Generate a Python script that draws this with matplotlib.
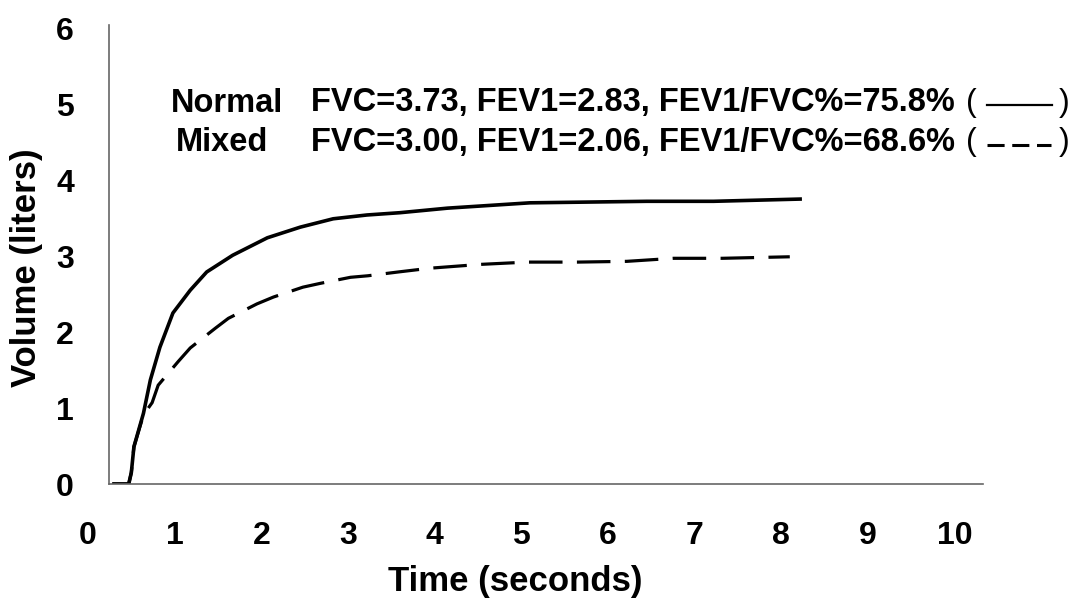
import matplotlib
matplotlib.use("Agg")
import matplotlib.pyplot as plt
from matplotlib.lines import Line2D

# ---- data ----
normal_t = [0.28, 0.47, 0.50, 0.53, 0.64, 0.72, 0.83, 0.98, 1.18, 1.37, 1.67, 2.07, 2.45,
            2.83, 3.22, 3.60, 4.15, 5.10, 6.45, 7.22, 8.24]
normal_v = [0.00, 0.00, 0.15, 0.49, 0.93, 1.37, 1.80, 2.25, 2.55, 2.79, 3.01, 3.24, 3.38,
            3.49, 3.54, 3.57, 3.63, 3.70, 3.72, 3.72, 3.75]

mixed_t = [0.28, 0.47, 0.50, 0.53, 0.64, 0.74, 0.81, 1.04, 1.18, 1.47, 1.62, 1.95, 2.14,
           2.48, 2.68, 3.03, 3.23, 3.58, 3.95, 4.53, 5.07, 5.65, 6.22, 6.76, 7.32, 8.10]
mixed_v = [0.00, 0.00, 0.15, 0.49, 0.91, 1.07, 1.30, 1.61, 1.79, 2.05, 2.18, 2.37, 2.46,
           2.59, 2.64, 2.72, 2.74, 2.79, 2.84, 2.89, 2.92, 2.92, 2.93, 2.97, 2.97, 2.99]

x_ticks = [0, 1, 2, 3, 4, 5, 6, 7, 8, 9, 10]
y_ticks = [0, 1, 2, 3, 4, 5, 6]

names = ["Normal", "Mixed"]
stats = ["FVC=3.73, FEV1=2.83, FEV1/FVC%=75.8%",
         "FVC=3.00, FEV1=2.06, FEV1/FVC%=68.6%"]

x_label = "Time (seconds)"
y_label = "Volume (liters)"

# ---- figure ----
W, H = 1073, 598
fig = plt.figure(figsize=(W / 100, H / 100), dpi=100)
fig.patch.set_facecolor("white")
FONT = "Liberation Sans"

def fx(px):
    return px / W

def fy(py):
    return 1 - py / H

ax = fig.add_axes([fx(88), fy(484), fx(983) - fx(88), fy(25) - fy(484)])
ax.set_xlim(0, 10.33)
ax.set_ylim(0, 6.04)

ax.plot(normal_t, normal_v, color="black", lw=2.6, solid_capstyle="butt",
        solid_joinstyle="round")
ax.plot(mixed_t, mixed_v, color="black", lw=2.3, dashes=(10.5, 4.5))

for s in ("top", "right"):
    ax.spines[s].set_visible(False)
ax.spines["left"].set_position(("data", 0.24))
ax.spines["bottom"].set_bounds(0.24, 10.33)
for s in ("left", "bottom"):
    ax.spines[s].set_color("#666666")
    ax.spines[s].set_linewidth(1.2)

ax.set_xticks(x_ticks)
ax.set_yticks(y_ticks)
ax.set_xticklabels([str(v) for v in x_ticks], fontfamily=FONT, fontweight="bold", fontsize=23)
ax.set_yticklabels([str(v) for v in y_ticks], fontfamily=FONT, fontweight="bold", fontsize=23)
ax.tick_params(axis="x", length=0, pad=27)
ax.tick_params(axis="y", length=0, pad=25)

fig.text(fx(515), fy(581), x_label, ha="center", va="center",
         fontfamily=FONT, fontweight="bold", fontsize=25)
fig.text(fx(27), fy(268), y_label, ha="center", va="center", rotation=90,
         fontfamily=FONT, fontweight="bold", fontsize=25)

# ---- legend-like annotation ----
rows_y = [103, 142]
name_x = [171, 176]
for i in range(2):
    fig.text(fx(name_x[i]), fy(rows_y[i]), names[i], ha="left", va="center",
             fontfamily=FONT, fontweight="bold", fontsize=23.5)
    fig.text(fx(311), fy(rows_y[i]), stats[i], ha="left", va="center",
             fontfamily=FONT, fontweight="bold", fontsize=23.5)
    fig.text(fx(966), fy(rows_y[i]), "(", ha="left", va="center",
             fontfamily=FONT, fontsize=23)
    fig.text(fx(1070), fy(rows_y[i]), ")", ha="right", va="center",
             fontfamily=FONT, fontsize=23)

fig.add_artist(Line2D([fx(987), fx(1052)], [fy(105), fy(105)],
                      transform=fig.transFigure, color="black", lw=1.6))
fig.add_artist(Line2D([fx(987), fx(1051)], [fy(145), fy(145)],
                      transform=fig.transFigure, color="black", lw=2.2,
                      dashes=(5.6, 2.5)))

fig.savefig("out.png", dpi=100, facecolor="white")
